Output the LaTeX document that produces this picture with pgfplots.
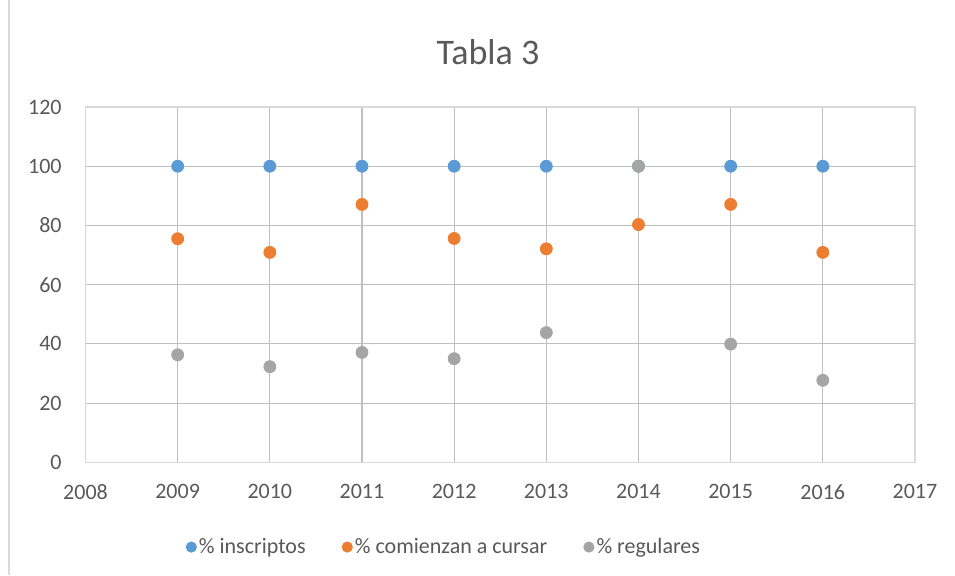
\documentclass[border=0pt]{standalone}
\usepackage{pgfplots}
\pgfplotsset{compat=1.18}
\usepackage{fontspec}
\setmainfont{Carlito}
\definecolor{cblue}{HTML}{5B9BD5}
\definecolor{corange}{HTML}{ED7D31}
\definecolor{cgray}{HTML}{A5A5A5}
\definecolor{grid}{HTML}{D9D9D9}
\definecolor{txt}{HTML}{595959}
\begin{document}
\begin{tikzpicture}
\path[use as bounding box] (0,0) rectangle (477.5pt,287.5pt);
\draw[grid, line width=0.6pt] (4.5pt,0) -- (4.5pt,287.5pt);
\node[text=txt, font=\fontsize{18}{20}\selectfont] at (244pt,261.5pt) {Tabla 3};
\begin{axis}[
  at={(42.75pt,56.35pt)}, anchor=south west,
  scale only axis, width=414.75pt, height=177.65pt,
  xmin=2008, xmax=2017, ymin=0, ymax=120,
  xtick={2008,2009,...,2017}, ytick={0,20,...,120},
  /pgf/number format/1000 sep={},
  /pgf/number format/assume math mode=true,
  grid=major, major grid style={grid, line width=0.55pt},
  axis line style={grid, line width=0.55pt},
  tick style={draw=none},
  tick label style={text=txt, font=\fontsize{11}{13}\selectfont},
  xticklabel style={inner sep=0pt, yshift=-10.8pt},
  yticklabel style={inner sep=0pt, xshift=-11.75pt},
  legend columns=3,
  legend style={at={(axis description cs:0.432,-0.2386)}, anchor=center, draw=none,
    font=\fontsize{11}{13}\selectfont, text=txt,
    nodes={inner xsep=1pt},
    /tikz/every even column/.append style={column sep=17pt},
    inner sep=0pt},
  legend image code/.code={\fill[#1] (0.1cm,0) circle (2.8pt);},
]
\addplot[only marks, mark=*, mark size=3pt, draw=none, fill=cblue, mark options={draw=cblue, fill=cblue}] coordinates {
(2009,100) (2010,100) (2011,100) (2012,100) (2013,100) (2014,100) (2015,100) (2016,100)};
\addlegendentry{\% inscriptos}
\addplot[only marks, mark=*, mark size=3pt, draw=none, fill=corange, mark options={draw=corange, fill=corange}] coordinates {
(2009,75.5) (2010,70.9) (2011,87.1) (2012,75.6) (2013,72.1) (2014,80.3) (2015,87.1) (2016,70.9)};
\addlegendentry{\% comienzan a cursar}
\addplot[only marks, mark=*, mark size=3pt, draw=none, fill=cgray, mark options={draw=cgray, fill=cgray}] coordinates {
(2009,36.3) (2010,32.3) (2011,37.1) (2012,35.0) (2013,43.8) (2014,100) (2015,39.9) (2016,27.7)};
\addlegendentry{\% regulares}
\end{axis}
\end{tikzpicture}
\end{document}
